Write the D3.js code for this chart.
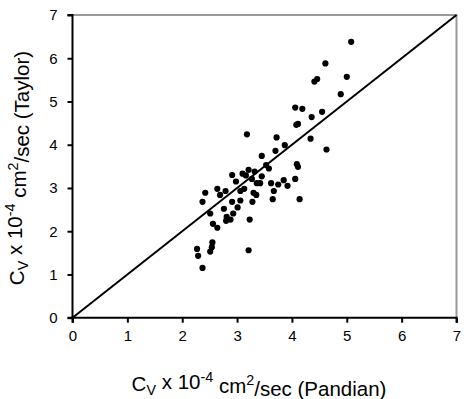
<!DOCTYPE html>
<html><head><meta charset="utf-8">
<script src="https://cdn.jsdelivr.net/npm/d3@7"></script>
<style>body{margin:0;background:#fff}svg{display:block}text{font-family:Arial,"Liberation Sans",sans-serif;fill:#000}</style>
</head><body><svg id="c" width="467" height="399"></svg>
<script>
const pandian = [5.08,4.61,5.0,4.46,4.41,4.89,4.06,4.19,4.55,4.36,4.11,4.08,3.18,3.72,4.34,3.87,3.70,4.63,3.45,3.53,3.58,4.09,4.11,3.21,3.32,2.91,3.10,3.16,3.45,3.27,2.98,3.36,3.42,3.62,3.75,3.85,3.92,4.06,3.13,3.06,2.64,2.79,3.67,3.30,3.35,2.42,2.69,2.37,2.91,3.06,3.28,3.65,4.14,2.76,3.01,2.51,2.93,2.81,2.88,2.80,3.23,2.56,2.64,2.55,2.54,2.51,3.21,2.27,2.29,2.37];
const taylor  = [6.38,5.88,5.57,5.52,5.46,5.17,4.86,4.83,4.76,4.64,4.48,4.46,4.24,4.17,4.14,3.99,3.86,3.89,3.74,3.53,3.45,3.55,3.49,3.42,3.38,3.30,3.33,3.29,3.27,3.21,3.15,3.11,3.11,3.11,3.08,3.18,3.05,3.21,2.98,2.93,2.98,2.93,2.93,2.89,2.84,2.89,2.84,2.68,2.68,2.71,2.68,2.74,2.74,2.52,2.55,2.41,2.41,2.33,2.27,2.24,2.27,2.17,2.08,1.74,1.63,1.53,1.56,1.59,1.43,1.15];
const xTicks = [0,1,2,3,4,5,6,7];
const yTicks = [0,1,2,3,4,5,6,7];
const lineData = [[0,0],[7,7]];

const svg = d3.select("#c");
const m = {l:72.5, t:15, r:10.5, b:81.3};
const W = 467, H = 399;
const x = d3.scaleLinear().domain([0,7]).range([m.l, W-m.r]);
const y = d3.scaleLinear().domain([0,7]).range([H-m.b, m.t]);

svg.append("path")
  .attr("d", `M${x(0)},${y(7)}H${x(7)}V${y(0)}`)
  .attr("fill","none").attr("stroke","#999").attr("stroke-width",2);

svg.append("path").datum(lineData)
  .attr("d", d3.line().x(d=>x(d[0])).y(d=>y(d[1])))
  .attr("fill","none").attr("stroke","#000").attr("stroke-width",2);

svg.append("g").selectAll("circle").data(pandian.map((v,i)=>[v,taylor[i]]))
  .join("circle").attr("cx",d=>x(d[0])).attr("cy",d=>y(d[1])).attr("r",3.1).attr("fill","#000");

const xa = svg.append("g").attr("transform",`translate(0,${y(0)})`)
  .call(d3.axisBottom(x).tickValues(xTicks).tickSize(5).tickPadding(8).tickFormat(d3.format("d")));
const ya = svg.append("g").attr("transform",`translate(${x(0)},0)`)
  .call(d3.axisLeft(y).tickValues(yTicks).tickSize(5).tickPadding(10).tickFormat(d3.format("d")));
[xa,ya].forEach(a=>{
  a.select(".domain").attr("stroke","#000").attr("stroke-width",2);
  a.selectAll(".tick line").attr("stroke","#000").attr("stroke-width",2);
  a.selectAll(".tick text").attr("font-size",15).attr("font-family","Arial, 'Liberation Sans', sans-serif").attr("fill","#000");
});
ya.select(".domain").attr("d",`M-5,${y(7)}H0V${y(0)}H-5`);
xa.select(".domain").attr("d",`M${x(0)},5V0H${x(7)}V5`);

function title(g, last){
  g.append("tspan").text("C");
  g.append("tspan").attr("font-size","0.7em").attr("dy","0.25em").text("V");
  g.append("tspan").attr("dy","-0.25em").text(" x 10");
  g.append("tspan").attr("font-size","0.7em").attr("dy","-0.5em").text("-4");
  g.append("tspan").attr("dy","0.5em").text(" cm");
  g.append("tspan").attr("font-size","0.7em").attr("dy","-0.5em").text("2");
  g.append("tspan").attr("dy","0.5em").text("/sec (" + last + ")");
}
const xt = svg.append("text").attr("x",259).attr("y",391).attr("text-anchor","middle").attr("font-size",20.5);
title(xt,"Pandian");
const yt = svg.append("text").attr("transform","translate(24,168) rotate(-90)").attr("text-anchor","middle").attr("font-size",20.5);
title(yt,"Taylor");
</script></body></html>
